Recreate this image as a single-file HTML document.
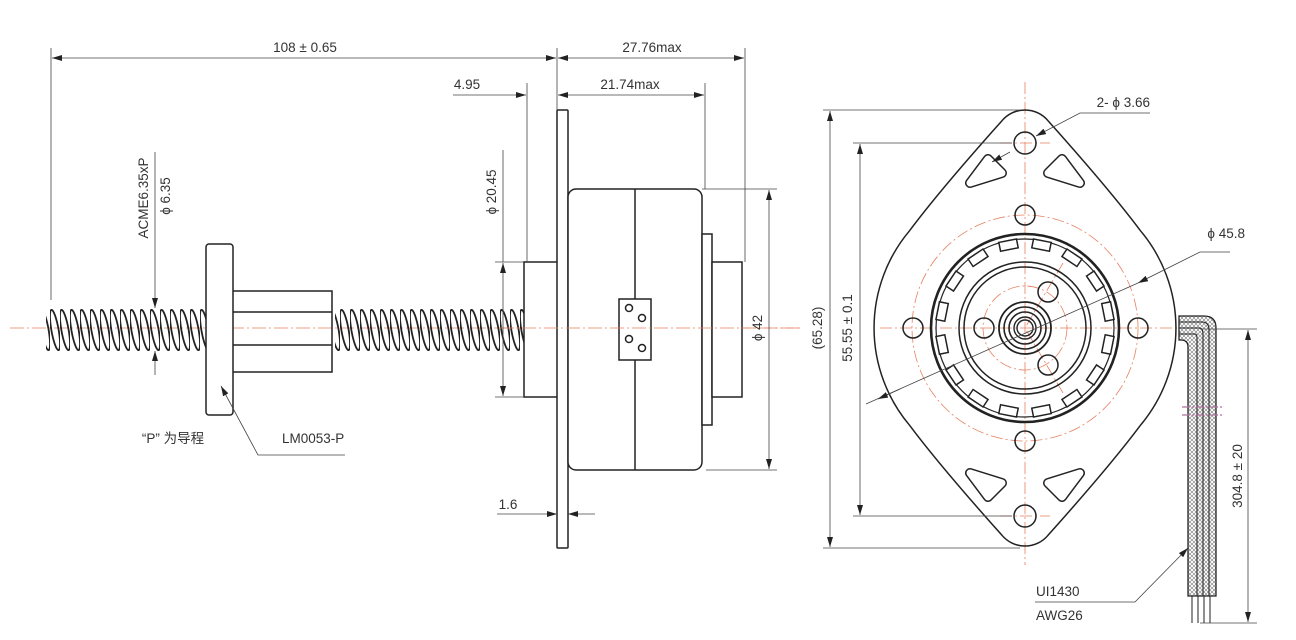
<!DOCTYPE html>
<html><head><meta charset="utf-8"><style>
html,body{margin:0;padding:0;background:#fff;}
svg{display:block;}
text{font-family:"Liberation Sans","Noto Sans CJK SC",sans-serif;fill:#333;font-size:13.5px;}
</style></head><body>
<svg width="1296" height="640" viewBox="0 0 1296 640" xmlns="http://www.w3.org/2000/svg">
<defs>
<pattern id="thr" x="0" y="309" width="10" height="42" patternUnits="userSpaceOnUse">
<ellipse cx="5" cy="21" rx="3.6" ry="20.5" transform="rotate(-10 5 21)" fill="none" stroke="#222" stroke-width="1.8"/>
</pattern>
<pattern id="hatch" width="4" height="4" patternUnits="userSpaceOnUse">
<path d="M0 0L4 4M4 0L0 4" stroke="#777" stroke-width="0.6"/>
</pattern>
<marker id="a" viewBox="0 0 10 6" refX="10" refY="3" markerWidth="10" markerHeight="6" orient="auto-start-reverse" markerUnits="userSpaceOnUse"><path d="M0 0L10 3L0 6Z" fill="#222"/></marker>
</defs>

<line x1="10" y1="328" x2="800" y2="328" stroke="#e88060" stroke-width="0.8" stroke-dasharray="14 3 2 3"/>

<rect x="46" y="309" width="160" height="42" fill="url(#thr)"/>
<rect x="335" y="309" width="189" height="42" fill="url(#thr)"/>

<rect x="206" y="244" width="27" height="171" rx="3" fill="#fff" stroke="#222" stroke-width="1.5"/>
<path d="M233 291H332V372H233M233 312H332M233 345H332" fill="none" stroke="#222" stroke-width="1.5"/>

<g fill="#fff" stroke="#222" stroke-width="1.5">
<rect x="524" y="262" width="44" height="135"/>
<rect x="557" y="110" width="11" height="438" rx="1"/>
<rect x="568" y="189" width="134" height="281" rx="8"/>
<rect x="702" y="234" width="10" height="191"/>
<rect x="712" y="262" width="30" height="135"/>
<line x1="635" y1="189" x2="635" y2="470"/>
<rect x="619" y="299" width="32" height="61"/>
<circle cx="629" cy="308" r="3.5"/><circle cx="642" cy="318" r="3.5"/>
<circle cx="629" cy="339" r="3.5"/><circle cx="642" cy="348" r="3.5"/>
</g>
<line x1="500" y1="328" x2="800" y2="328" stroke="#e88060" stroke-width="0.8" stroke-dasharray="14 3 2 3"/>

<g stroke="#444" stroke-width="0.8" fill="none">
<line x1="51" y1="48" x2="51" y2="300"/>
<line x1="557" y1="48" x2="557" y2="110"/>
<line x1="745" y1="48" x2="745" y2="262"/>
<line x1="527" y1="83" x2="527" y2="262"/>
<line x1="705" y1="83" x2="705" y2="189"/>
<line x1="52" y1="58" x2="556" y2="58" marker-start="url(#a)" marker-end="url(#a)"/>
<line x1="558" y1="58" x2="744" y2="58" marker-start="url(#a)" marker-end="url(#a)"/>
<line x1="453" y1="95" x2="526" y2="95" marker-end="url(#a)"/>
<line x1="558" y1="95" x2="704" y2="95" marker-start="url(#a)" marker-end="url(#a)"/>
<line x1="155" y1="152" x2="155" y2="308" marker-end="url(#a)"/>
<line x1="155" y1="375" x2="155" y2="351" marker-end="url(#a)"/>
<line x1="495" y1="262" x2="524" y2="262"/>
<line x1="495" y1="397" x2="524" y2="397"/>
<line x1="503" y1="263" x2="503" y2="396" marker-start="url(#a)" marker-end="url(#a)"/>
<line x1="503" y1="150" x2="503" y2="262"/>
<line x1="702" y1="189" x2="777" y2="189"/>
<line x1="706" y1="470" x2="777" y2="470"/>
<line x1="769" y1="190" x2="769" y2="469" marker-start="url(#a)" marker-end="url(#a)"/>
<line x1="497" y1="514" x2="557" y2="514" marker-end="url(#a)"/>
<line x1="595" y1="514" x2="568" y2="514" marker-end="url(#a)"/>
<path d="M345 455H258L221 386" marker-end="url(#a)"/>
</g>
<text x="305" y="52" text-anchor="middle">108 ± 0.65</text>
<text x="652" y="52" text-anchor="middle">27.76max</text>
<text x="630" y="89" text-anchor="middle">21.74max</text>
<text x="467" y="89" text-anchor="middle">4.95</text>
<text x="508" y="509" text-anchor="middle">1.6</text>
<text x="282" y="443">LM0053-P</text>
<text x="173" y="443" text-anchor="middle">“P” 为导程</text>
<text transform="translate(148,198) rotate(-90)" text-anchor="middle">ACME6.35xP</text>
<text transform="translate(170,196) rotate(-90)" text-anchor="middle">ϕ 6.35</text>
<text transform="translate(496,192) rotate(-90)" text-anchor="middle">ϕ 20.45</text>
<text transform="translate(762,328) rotate(-90)" text-anchor="middle">ϕ 42</text>

<g stroke="#e88060" stroke-width="0.8" fill="none" stroke-dasharray="12 3 2 3">
<line x1="1025" y1="82" x2="1025" y2="565"/>
<line x1="880" y1="328" x2="1180" y2="328"/>
<circle cx="1025" cy="328" r="113"/>
<circle cx="1025" cy="328" r="42"/>
<line x1="1063" y1="263" x2="1025" y2="328"/>
<line x1="1063" y1="393" x2="1025" y2="328"/>
<line x1="1000" y1="143" x2="1050" y2="143"/>
<line x1="1000" y1="516" x2="1050" y2="516"/>
</g>
<g fill="none" stroke="#222" stroke-width="1.5">
<path d="M1002 120.7A30 30 0 0 1 1048 120.7Q1110 190 1140.5 230.8A151 151 0 0 1 1140.5 425.2Q1110 466 1048 535.3A30 30 0 0 1 1002 535.3Q940 466 909.5 425.2A151 151 0 0 1 909.5 230.8Q940 190 1002 120.7Z"/>
<circle cx="1025" cy="143" r="11"/>
<circle cx="1025" cy="516" r="11"/>
<circle cx="1025" cy="215" r="10"/>
<circle cx="1025" cy="441" r="10"/>
<circle cx="913" cy="328" r="10"/>
<circle cx="1138" cy="328" r="10"/>
<circle cx="984" cy="328" r="10"/>
<circle cx="1048" cy="292" r="10"/>
<circle cx="1048" cy="365" r="10"/>
</g>
<g stroke="#222" stroke-width="10" stroke-linejoin="round" fill="#222">
<polygon points="1048,483 1080,473 1062,497"/>
<polygon points="1002,483 970,473 988,497"/>
<polygon points="1048,173 1080,183 1062,159"/>
<polygon points="1002,173 970,183 988,159"/>
</g>
<g stroke="#fff" stroke-width="7" stroke-linejoin="round" fill="#fff">
<polygon points="1048,483 1080,473 1062,497"/>
<polygon points="1002,483 970,473 988,497"/>
<polygon points="1048,173 1080,183 1062,159"/>
<polygon points="1002,173 970,183 988,159"/>
</g>
<g fill="none" stroke="#222" stroke-width="1.5">
<circle cx="1025" cy="328" r="94" stroke-width="2.6"/>
<circle cx="1025" cy="328" r="89" stroke-width="1.2"/>
<circle cx="1025" cy="328" r="66"/>
<circle cx="1025" cy="328" r="61"/>
<circle cx="1025" cy="328" r="26" stroke-width="1.8"/>
<circle cx="1025" cy="328" r="21" stroke-width="1.6"/>
<circle cx="1025" cy="328" r="16" stroke-width="1.6"/>
<circle cx="1025" cy="328" r="11" stroke-width="1.4"/>
<circle cx="1025" cy="328" r="8" stroke-width="1.4"/>
</g>
<g fill="#fff" stroke="#222" stroke-width="1.5">
<rect x="-9" y="-89" width="18" height="9" transform="translate(1025 328) rotate(11.25)"/>
<rect x="-9" y="-89" width="18" height="9" transform="translate(1025 328) rotate(33.75)"/>
<rect x="-9" y="-89" width="18" height="9" transform="translate(1025 328) rotate(56.25)"/>
<rect x="-9" y="-89" width="18" height="9" transform="translate(1025 328) rotate(78.75)"/>
<rect x="-9" y="-89" width="18" height="9" transform="translate(1025 328) rotate(101.25)"/>
<rect x="-9" y="-89" width="18" height="9" transform="translate(1025 328) rotate(123.75)"/>
<rect x="-9" y="-89" width="18" height="9" transform="translate(1025 328) rotate(146.25)"/>
<rect x="-9" y="-89" width="18" height="9" transform="translate(1025 328) rotate(168.75)"/>
<rect x="-9" y="-89" width="18" height="9" transform="translate(1025 328) rotate(191.25)"/>
<rect x="-9" y="-89" width="18" height="9" transform="translate(1025 328) rotate(213.75)"/>
<rect x="-9" y="-89" width="18" height="9" transform="translate(1025 328) rotate(236.25)"/>
<rect x="-9" y="-89" width="18" height="9" transform="translate(1025 328) rotate(258.75)"/>
<rect x="-9" y="-89" width="18" height="9" transform="translate(1025 328) rotate(281.25)"/>
<rect x="-9" y="-89" width="18" height="9" transform="translate(1025 328) rotate(303.75)"/>
<rect x="-9" y="-89" width="18" height="9" transform="translate(1025 328) rotate(326.25)"/>
<rect x="-9" y="-89" width="18" height="9" transform="translate(1025 328) rotate(348.75)"/>
</g>

<path d="M1179 316H1204Q1216 316 1216 328V596H1188V347Q1188 340 1181 340H1179Z" fill="url(#hatch)" stroke="#222" stroke-width="1.3"/>
<path d="M1179 322H1202Q1209 322 1209 330V596M1179 328H1199Q1203 328 1203 334V596M1179 334H1195Q1197 334 1197 338V596" fill="none" stroke="#222" stroke-width="1.1"/>
<path d="M1192 596V623M1198 596V623M1204 596V623M1210 596V623" stroke="#222" stroke-width="1"/>
<path d="M1182 407H1222M1182 415H1222" stroke="#b070a0" stroke-width="1.2" stroke-dasharray="8 2 2 2"/>

<g stroke="#444" stroke-width="0.8" fill="none">
<line x1="823" y1="110" x2="1020" y2="110"/>
<line x1="823" y1="548" x2="1020" y2="548"/>
<line x1="830" y1="111" x2="830" y2="547" marker-start="url(#a)" marker-end="url(#a)"/>
<line x1="853" y1="143" x2="1012" y2="143"/>
<line x1="853" y1="516" x2="1012" y2="516"/>
<line x1="860" y1="144" x2="860" y2="515" marker-start="url(#a)" marker-end="url(#a)"/>
<line x1="1200" y1="329" x2="1257" y2="329"/>
<line x1="1200" y1="623" x2="1257" y2="623"/>
<line x1="1248" y1="330" x2="1248" y2="622" marker-start="url(#a)" marker-end="url(#a)"/>
<path d="M1150 113H1080L1036 136" marker-end="url(#a)"/>
<line x1="1010" y1="152" x2="992" y2="162" marker-end="url(#a)"/>
<path d="M1230 252H1200L1138 283" marker-end="url(#a)"/>
<line x1="866" y1="404" x2="1138" y2="283"/>
<line x1="900" y1="389" x2="878" y2="399" marker-end="url(#a)"/>
<path d="M1035 602H1135L1188 548" marker-end="url(#a)"/>
</g>
<text x="1150" y="107" text-anchor="end">2- ϕ 3.66</text>
<text x="1245" y="238" text-anchor="end">ϕ 45.8</text>
<text transform="translate(822,328) rotate(-90)" text-anchor="middle">(65.28)</text>
<text transform="translate(852,328) rotate(-90)" text-anchor="middle">55.55 ± 0.1</text>
<text transform="translate(1242,476) rotate(-90)" text-anchor="middle">304.8 ± 20</text>
<text x="1036" y="596">UI1430</text>
<text x="1036" y="620">AWG26</text>
</svg>
</body></html>
